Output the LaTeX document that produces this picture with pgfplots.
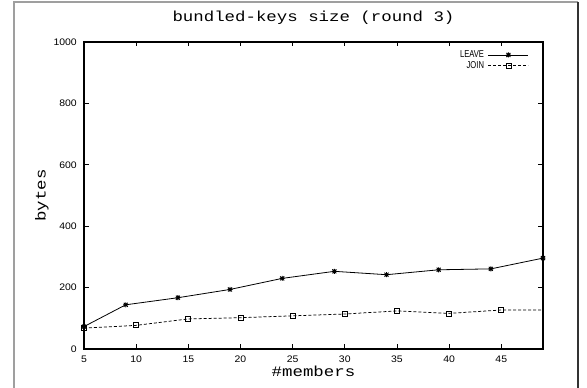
\documentclass[border=0pt]{standalone}
\usepackage{pgfplots}
\pgfplotsset{compat=1.18}
\usepackage{fontspec}
\setmainfont{Liberation Sans}
\newfontfamily\monofont[FakeStretch=1.2]{Liberation Mono}
\newfontfamily\tickfont[FakeStretch=1.1]{Liberation Sans}
\newfontfamily\legfont[FakeStretch=0.76]{Liberation Sans}
\pgfdeclareplotmark{gpstar}{%
  \pgfpathmoveto{\pgfqpoint{-\pgfplotmarksize}{0pt}}%
  \pgfpathlineto{\pgfqpoint{\pgfplotmarksize}{0pt}}%
  \pgfpathmoveto{\pgfqpoint{0pt}{-\pgfplotmarksize}}%
  \pgfpathlineto{\pgfqpoint{0pt}{\pgfplotmarksize}}%
  \pgfpathmoveto{\pgfqpoint{-0.8\pgfplotmarksize}{-0.8\pgfplotmarksize}}%
  \pgfpathlineto{\pgfqpoint{0.8\pgfplotmarksize}{0.8\pgfplotmarksize}}%
  \pgfpathmoveto{\pgfqpoint{-0.8\pgfplotmarksize}{0.8\pgfplotmarksize}}%
  \pgfpathlineto{\pgfqpoint{0.8\pgfplotmarksize}{-0.8\pgfplotmarksize}}%
  \pgfusepathqstroke}
\begin{document}
\begin{tikzpicture}
\useasboundingbox (0pt,0pt) rectangle (587pt,388pt);
\coordinate (O) at (84pt,39pt);
\draw[gray!75, line width=1.3pt] (14pt,0pt) -- (14pt,386pt) -- (578pt,386pt);
\draw[black!80, line width=1.3pt] (578pt,386pt) -- (578pt,0pt);
\begin{axis}[
  at={(O)}, anchor=south west,
  scale only axis, width=459pt, height=307pt,
  xmin=5, xmax=49, ymin=0, ymax=1000,
  xtick={5,10,...,45}, ytick={0,200,...,1000},
  tick align=inside, major tick length=4.5pt,
  every tick/.style={black, line width=0.7pt},
  axis line style={line width=1.1pt},
  /pgf/number format/assume math mode=true,
  /pgf/number format/1000 sep={},
  tick label style={font=\tickfont\fontsize{9.5}{11}\selectfont, inner sep=0pt},
  yticklabel style={anchor=east, xshift=-7pt},
  xticklabel style={anchor=north, yshift=-6.5pt},
  title={bundled-keys size (round 3)},
  title style={font=\monofont\fontsize{14.5}{16}\selectfont, at={(axis description cs:0.5,1.0456)}, anchor=base, inner sep=0pt},
  xlabel={\#members},
  xlabel style={font=\monofont\fontsize{14.5}{16}\selectfont, at={(axis description cs:0.5,-0.0912)}, anchor=base, inner sep=0pt},
  ylabel={bytes},
  ylabel style={font=\monofont\fontsize{14.5}{16}\selectfont, at={(axis description cs:-0.0915,0.5)}, anchor=center, inner sep=0pt},
  legend plot pos=right,
  legend cell align=right,
  legend style={at={(axis description cs:0.9695,0.972)}, anchor=north east, draw=none, fill=none, inner sep=0pt, row sep=2pt, column sep=4pt,
    font=\legfont\fontsize{10}{10}\selectfont, nodes={inner sep=0pt}},
  legend image code/.code={\draw[mark repeat=2,mark phase=2,#1] plot coordinates {(0pt,0pt) (20pt,0pt) (40pt,0pt)};},
]
\addplot[black, line width=0.8pt, mark=gpstar, mark size=2.5pt, mark options={solid, line width=0.9pt}]
  coordinates {(5,73) (9,144) (14,167) (19,194) (24,230) (29,253) (34,242) (39,258) (44,261) (49,296)};
\addlegendentry{LEAVE}
\addplot[black, line width=0.75pt, dash pattern=on 3pt off 2pt, mark=square, mark size=2.5pt, mark options={solid, line width=0.75pt}]
  coordinates {(5,68) (10,77) (15,98) (20,102) (25,108) (30,114) (35,124) (40,116) (45,127) (50,127)};
\addlegendentry{JOIN}
\end{axis}
\end{tikzpicture}
\end{document}
